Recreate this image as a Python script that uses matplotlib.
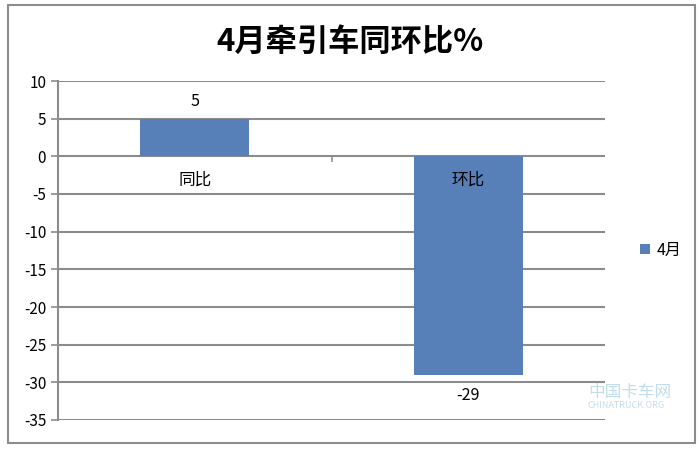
import matplotlib
matplotlib.use("Agg")
import matplotlib.pyplot as plt
from matplotlib.patches import Rectangle

plt.rcParams['font.family'] = ['Noto Sans CJK SC', 'DejaVu Sans']

# data
categories = ['同比', '环比']
values = [5, -29]
series_name = '4月'
title = '4月牵引车同环比%'
yticks = [10, 5, 0, -5, -10, -15, -20, -25, -30, -35]

bar_color = '#5880b8'
grid_color = '#8c8c8c'

fig = plt.figure(figsize=(7, 4.5), dpi=100)
# outer chart border
fig.patches.append(Rectangle((8 / 700, 1 - 443 / 450), 687 / 700, 438 / 450,
                             transform=fig.transFigure, fill=False,
                             edgecolor='#8c8c8c', linewidth=1.5))

ax = fig.add_axes([58 / 700, 1 - 420 / 450, 547 / 700, 339 / 450])
x = range(len(categories))
bars = ax.bar(x, values, width=0.4, color=bar_color, label=series_name, zorder=3)

ax.set_xlim(-0.5, 1.5)
ax.set_ylim(-35, 10)
ax.set_yticks(yticks)
ax.set_yticklabels([str(v) for v in yticks], fontsize=11)
ax.yaxis.grid(True, color=grid_color, linewidth=1.5, zorder=0)
ax.tick_params(axis='y', length=5, color=grid_color, width=1.2)
ax.set_xticks([])
for side in ['top', 'right', 'bottom']:
    ax.spines[side].set_visible(False)
ax.spines['left'].set_color(grid_color)
ax.spines['left'].set_linewidth(1.5)

# category labels sit right below the zero line, with a tick between them
for i, cat in enumerate(categories):
    ax.text(i, -3.2, cat, ha='center', va='center', fontsize=12)
ax.plot([0.5, 0.5], [0, -0.6], color=grid_color, linewidth=1.2)

# value labels
for i, v in enumerate(values):
    offset = 2.3 if v >= 0 else -2.8
    ax.text(i, v + offset, str(v), ha='center', va='center', fontsize=11.5)

fig.text(0.5, 1 - 42 / 450, title, ha='center', va='center',
         fontsize=22.5, fontweight='bold')

fig.legend(handles=[bars], labels=[series_name], loc='center left',
           bbox_to_anchor=(626 / 700, 1 - 250 / 450), frameon=False,
           fontsize=11.5, handlelength=0.6, handleheight=0.6, handletextpad=0.4)

# faint site watermark
fig.text(672 / 700, 1 - 392 / 450, '中国卡车网', ha='right', va='center',
         fontsize=12, color='#b5d4e6', alpha=0.8)
fig.text(665 / 700, 1 - 405 / 450, 'CHINATRUCK.ORG', ha='right', va='center',
         fontsize=6.5, color='#b5d4e6', alpha=0.8)

fig.savefig('out.png', dpi=100)
